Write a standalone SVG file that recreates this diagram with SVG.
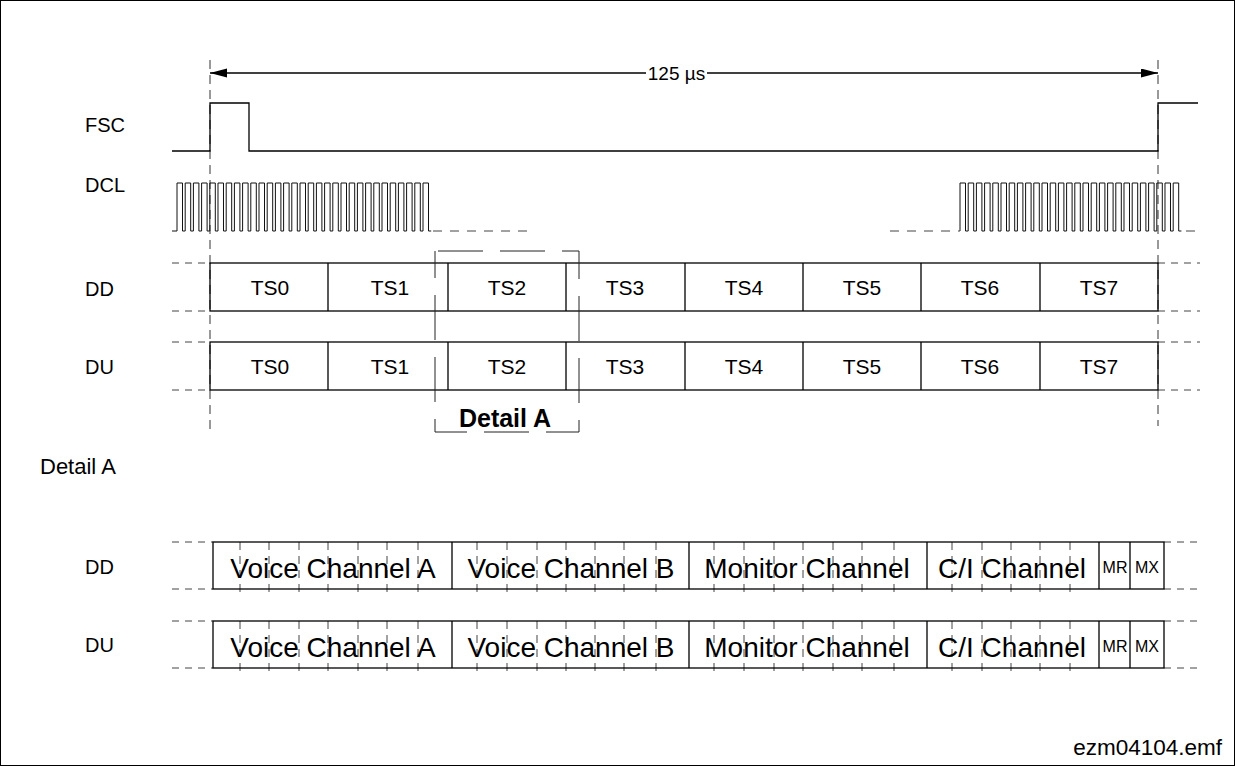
<svg xmlns="http://www.w3.org/2000/svg" width="1235" height="766" viewBox="0 0 1235 766">
<defs>
<marker id="ah" markerUnits="userSpaceOnUse" markerWidth="18" markerHeight="10" refX="17" refY="4.5" orient="auto"><path d="M0,0 L17,4.5 L0,9 z" fill="#000"/></marker>
<style>
.t{font-family:"Liberation Sans",Arial,sans-serif;fill:#000}
.lbl{font-size:20px}
.ts{font-size:21px;text-anchor:middle}
.big{font-size:28px;text-anchor:middle}
.sm{font-size:16px;text-anchor:middle}
.ln{stroke:#000;stroke-width:1.3;fill:none}
.box{stroke:#000;stroke-width:1.3;fill:none}
.thin{stroke:#111;stroke-width:1;fill:none}
.g{stroke:#333;stroke-width:1;fill:none;stroke-dasharray:9 6}
.ext{stroke:#444;stroke-width:1;fill:none;stroke-dasharray:7 6}
.tick{stroke:#444;stroke-width:1;fill:none;stroke-dasharray:8 6}
</style>
</defs>
<rect x="0.5" y="0.5" width="1234" height="765" fill="#fff" stroke="#000" stroke-width="1"/>

<g id="labels">
<text class="t lbl" x="85" y="132">FSC</text>
<text class="t lbl" x="85" y="192">DCL</text>
<text class="t lbl" x="85" y="296">DD</text>
<text class="t lbl" x="85" y="374">DU</text>
<text class="t" x="40" y="474" font-size="22">Detail A</text>
<text class="t lbl" x="85" y="574">DD</text>
<text class="t lbl" x="85" y="652">DU</text>
<text class="t" x="1222" y="755" font-size="22.5" text-anchor="end">ezm04104.emf</text>
</g>

<g id="connectors">
<path class="g" d="M210,60 V430"/>
<path class="g" d="M1158,60 V426"/>
<path class="ln" d="M646,73 H210" marker-end="url(#ah)"/>
<path class="ln" d="M707,73 H1158" marker-end="url(#ah)"/>
<text class="t" x="676.5" y="80" font-size="19" text-anchor="middle">125 µs</text>
</g>

<g id="fsc">
<path class="ln" d="M172,151 H210 V103 H249 V151 H1158 V103 H1198"/>
</g>

<g id="dcl">
<path class="thin" d="M172,231 H177 v-48h5.5v48h2.7v-48h5.5v48h2.7v-48h5.5v48h2.7v-48h5.5v48h2.7v-48h5.5v48h2.7v-48h5.5v48h2.7v-48h5.5v48h2.7v-48h5.5v48h2.7v-48h5.5v48h2.7v-48h5.5v48h2.7v-48h5.5v48h2.7v-48h5.5v48h2.7v-48h5.5v48h2.7v-48h5.5v48h2.7v-48h5.5v48h2.7v-48h5.5v48h2.7v-48h5.5v48h2.7v-48h5.5v48h2.7v-48h5.5v48h2.7v-48h5.5v48h2.7v-48h5.5v48h2.7v-48h5.5v48h2.7v-48h5.5v48h2.7v-48h5.5v48h2.7v-48h5.5v48h2.7v-48h5.5v48h2.7v-48h5.5v48h2.7v-48h5.5v48h2.7v-48h5.5v48h2.7v-48h5.5v48h2.7v-48h5.5v48h2.7"/>
<path class="thin" d="M960,231 v-48h5.5v48h2.7v-48h5.5v48h2.7v-48h5.5v48h2.7v-48h5.5v48h2.7v-48h5.5v48h2.7v-48h5.5v48h2.7v-48h5.5v48h2.7v-48h5.5v48h2.7v-48h5.5v48h2.7v-48h5.5v48h2.7v-48h5.5v48h2.7v-48h5.5v48h2.7v-48h5.5v48h2.7v-48h5.5v48h2.7v-48h5.5v48h2.7v-48h5.5v48h2.7v-48h5.5v48h2.7v-48h5.5v48h2.7v-48h5.5v48h2.7v-48h5.5v48h2.7v-48h5.5v48h2.7v-48h5.5v48h2.7v-48h5.5v48h2.7v-48h5.5v48h2.7v-48h5.5v48h2.7v-48h5.5v48h2.7v-48h5.5v48h2.7"/>
<path class="ext" d="M433,231 H535 M890,231 H960 M1186,231 H1200" style="stroke-dasharray:9 8"/>
</g>

<g id="dd-row">
<path class="ext" d="M172,263 H210 M172,311 H210 M1158,263 H1200 M1158,311 H1200"/>
<rect class="box" x="210" y="263" width="948" height="48"/>
<path class="box" d="M328,263 V311 M448,263 V311 M566,263 V311 M685,263 V311 M803,263 V311 M921,263 V311 M1040,263 V311"/>
<text class="t ts" x="270" y="295">TS0</text>
<text class="t ts" x="390" y="295">TS1</text>
<text class="t ts" x="507" y="295">TS2</text>
<text class="t ts" x="625" y="295">TS3</text>
<text class="t ts" x="744" y="295">TS4</text>
<text class="t ts" x="862" y="295">TS5</text>
<text class="t ts" x="980" y="295">TS6</text>
<text class="t ts" x="1099" y="295">TS7</text>
</g>

<g id="du-row">
<path class="ext" d="M172,342 H210 M172,390 H210 M1158,342 H1200 M1158,390 H1200"/>
<rect class="box" x="210" y="342" width="948" height="48"/>
<path class="box" d="M328,342 V390 M448,342 V390 M566,342 V390 M685,342 V390 M803,342 V390 M921,342 V390 M1040,342 V390"/>
<text class="t ts" x="270" y="374">TS0</text>
<text class="t ts" x="390" y="374">TS1</text>
<text class="t ts" x="507" y="374">TS2</text>
<text class="t ts" x="625" y="374">TS3</text>
<text class="t ts" x="744" y="374">TS4</text>
<text class="t ts" x="862" y="374">TS5</text>
<text class="t ts" x="980" y="374">TS6</text>
<text class="t ts" x="1099" y="374">TS7</text>
</g>

<g id="detail-a-box">
<path d="M435,251 H579 V432 H435 Z" fill="none" stroke="#222" stroke-width="1" stroke-dasharray="45 17" stroke-dashoffset="59"/>
<text class="t" x="505" y="427" font-size="25" font-weight="bold" text-anchor="middle">Detail A</text>
</g>

<g id="detail-dd">
<path class="ext" d="M172,542 H213 M172,589 H213 M1164,542 H1200 M1164,589 H1200"/>
<path class="tick" d="M240,542V592M269,542V592M299,542V592M328,542V592M358,542V592M387,542V592M418,542V592M477,542V592M507,542V592M537,542V592M566,542V592M595,542V592M624,542V592M656,542V592M714,542V592M744,542V592M774,542V592M803,542V592M833,542V592M862,542V592M894,542V592M952,542V592M982,542V592M1011,542V592M1040,542V592M1070,542V592"/>
<rect class="box" x="213" y="542" width="951" height="47"/>
<path class="box" d="M452,542V589M689,542V589M927,542V589M1099,542V589M1130,542V589"/>
<text class="t big" x="333" y="578">Voice Channel A</text>
<text class="t big" x="571" y="578">Voice Channel B</text>
<text class="t big" x="807" y="578">Monitor Channel</text>
<text class="t big" x="1012" y="578">C/I Channel</text>
<text class="t sm" x="1115" y="573">MR</text>
<text class="t sm" x="1147" y="573">MX</text>
</g>

<g id="detail-du">
<path class="ext" d="M172,621 H213 M172,668 H213 M1164,621 H1200 M1164,668 H1200"/>
<path class="tick" d="M240,621V671M269,621V671M299,621V671M328,621V671M358,621V671M387,621V671M418,621V671M477,621V671M507,621V671M537,621V671M566,621V671M595,621V671M624,621V671M656,621V671M714,621V671M744,621V671M774,621V671M803,621V671M833,621V671M862,621V671M894,621V671M952,621V671M982,621V671M1011,621V671M1040,621V671M1070,621V671"/>
<rect class="box" x="213" y="621" width="951" height="47"/>
<path class="box" d="M452,621V668M689,621V668M927,621V668M1099,621V668M1130,621V668"/>
<text class="t big" x="333" y="657">Voice Channel A</text>
<text class="t big" x="571" y="657">Voice Channel B</text>
<text class="t big" x="807" y="657">Monitor Channel</text>
<text class="t big" x="1012" y="657">C/I Channel</text>
<text class="t sm" x="1115" y="652">MR</text>
<text class="t sm" x="1147" y="652">MX</text>
</g>
</svg>
